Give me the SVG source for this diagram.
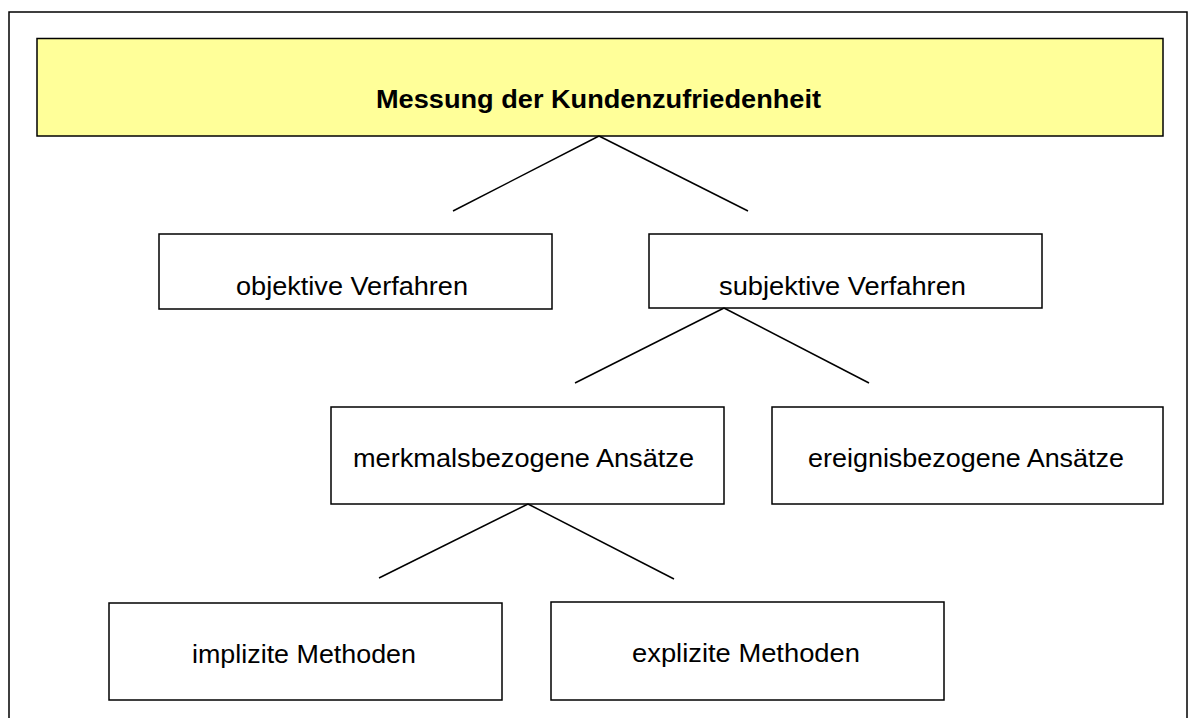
<svg xmlns="http://www.w3.org/2000/svg" width="1192" height="718" viewBox="0 0 1192 718">
  <style>
    .frame { fill: #ffffff; stroke: #000000; stroke-width: 1.5; }
    .box { fill: #ffffff; stroke: #000000; stroke-width: 1.5; }
    .head { fill: #ffff99; stroke: #000000; stroke-width: 1.5; }
    .lbl { font-family: "Liberation Sans", Arial, sans-serif; font-size: 25px; fill: #000000; text-anchor: middle; }
    .title { font-weight: bold; }
    .conn line { stroke: #000000; stroke-width: 1.5; }
  </style>
  <rect width="1192" height="718" fill="#ffffff"/>
  <!-- outer frame, open at the bottom edge -->
  <rect class="frame" x="9" y="12" width="1178" height="720"/>

  <g id="messung">
    <rect class="head" x="37" y="38.5" width="1126" height="97.5"/>
    <text class="lbl title" x="598.5" y="108" textLength="445" lengthAdjust="spacingAndGlyphs">Messung der Kundenzufriedenheit</text>
  </g>

  <g id="objektiv">
    <rect class="box" x="159" y="234" width="393" height="75"/>
    <text class="lbl" x="352" y="295" textLength="232" lengthAdjust="spacingAndGlyphs">objektive Verfahren</text>
  </g>

  <g id="subjektiv">
    <rect class="box" x="649" y="234" width="393" height="74"/>
    <text class="lbl" x="842.5" y="295" textLength="247" lengthAdjust="spacingAndGlyphs">subjektive Verfahren</text>
  </g>

  <g id="merkmal">
    <rect class="box" x="331" y="407" width="393" height="97"/>
    <text class="lbl" x="523.5" y="467" textLength="341" lengthAdjust="spacingAndGlyphs">merkmalsbezogene Ansätze</text>
  </g>

  <g id="ereignis">
    <rect class="box" x="772" y="407" width="391" height="97"/>
    <text class="lbl" x="966" y="467" textLength="316" lengthAdjust="spacingAndGlyphs">ereignisbezogene Ansätze</text>
  </g>

  <g id="implizit">
    <rect class="box" x="109" y="603" width="393" height="97"/>
    <text class="lbl" x="304" y="663" textLength="224" lengthAdjust="spacingAndGlyphs">implizite Methoden</text>
  </g>

  <g id="explizit">
    <rect class="box" x="551" y="602" width="393" height="98"/>
    <text class="lbl" x="746" y="662" textLength="228" lengthAdjust="spacingAndGlyphs">explizite Methoden</text>
  </g>

  <g id="connectors" class="conn">
    <line x1="599" y1="136" x2="453" y2="211"/>
    <line x1="599" y1="136" x2="748" y2="211"/>
    <line x1="724" y1="308" x2="575" y2="383"/>
    <line x1="724" y1="308" x2="869" y2="383"/>
    <line x1="528" y1="504" x2="379" y2="578"/>
    <line x1="528" y1="504" x2="674" y2="579"/>
  </g>
</svg>
